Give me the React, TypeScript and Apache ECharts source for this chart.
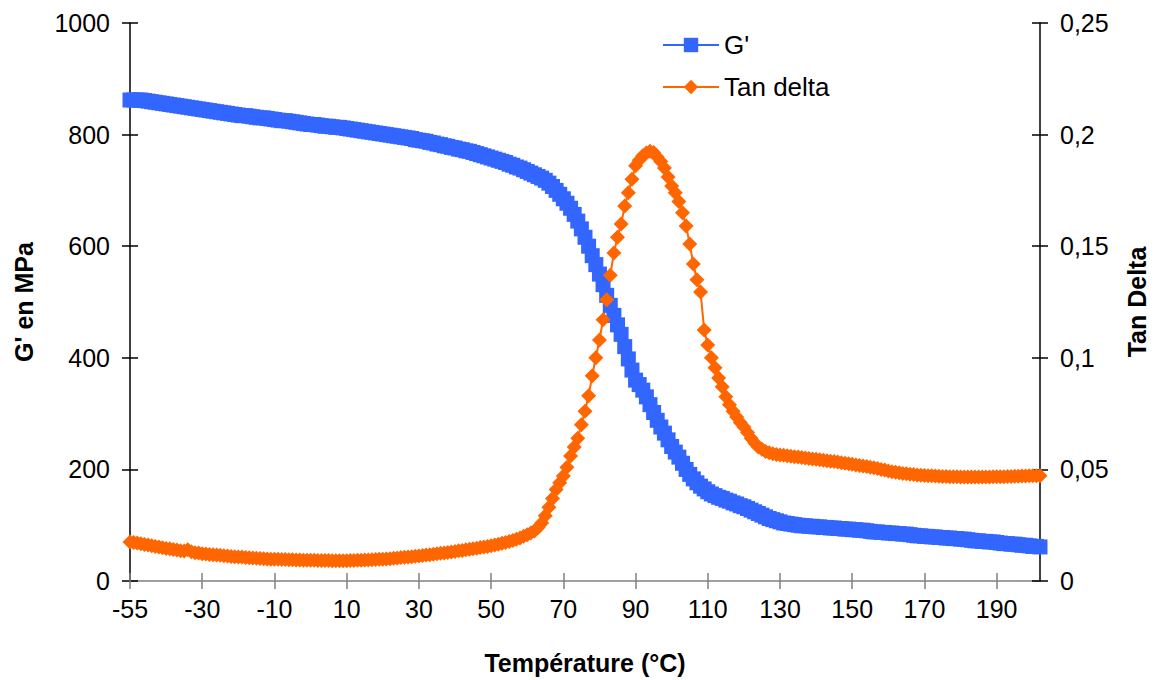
import React, { useEffect, useRef } from "react";
import * as echarts from "echarts";

// Temperature categories (°C) – one per measured point
const temperatures: number[] = [
  -55, -53.75, -52.5, -51.25, -50, -48.75, -47.5, -46.25, -45, -43.75,
  -42.5, -41.25, -40, -38.75, -37.5, -36.25, -35, -33.75, -32.5, -31.25,
  -30, -29, -28, -27, -26, -25, -24, -23, -22, -21,
  -20, -19, -18, -17, -16, -15, -14, -13, -12, -11,
  -10, -9, -8, -7, -6, -5, -4, -3, -2, -1,
  0, 1, 2, 3, 4, 5, 6, 7, 8, 9,
  10, 11, 12, 13, 14, 15, 16, 17, 18, 19,
  20, 21, 22, 23, 24, 25, 26, 27, 28, 29,
  30, 31, 32, 33, 34, 35, 36, 37, 38, 39,
  40, 41, 42, 43, 44, 45, 46, 47, 48, 49,
  50, 51, 52, 53, 54, 55, 56, 57, 58, 59,
  60, 61, 62, 63, 64, 65, 66, 67, 68, 69,
  70, 71, 72, 73, 74, 75, 76, 77, 78, 79,
  80, 81, 82, 83, 84, 85, 86, 87, 88, 89,
  90, 91, 92, 93, 94, 95, 96, 97, 98, 99,
  100, 101, 102, 103, 104, 105, 106, 107, 108, 109,
  110, 111, 112, 113, 114, 115, 116, 117, 118, 119,
  120, 121, 122, 123, 124, 125, 126, 127, 128, 129,
  130, 131, 132, 133, 134, 135, 136, 137, 138, 139,
  140, 141, 142, 143, 144, 145, 146, 147, 148, 149,
  150, 151, 152, 153, 154, 155, 156, 157, 158, 159,
  160, 161, 162, 163, 164, 165, 166, 167, 168, 169,
  170, 171, 172, 173, 174, 175, 176, 177, 178, 179,
  180, 181, 182, 183, 184, 185, 186, 187, 188, 189,
  190, 191, 192, 193, 194, 195, 196, 197, 198, 199,
  200, 201, 202,
];

// G' (MPa)
const gPrime: number[] = [
  862, 862, 862, 862, 861, 860, 859, 858, 857, 856,
  855, 854, 853, 852, 851, 850, 849, 848, 847, 846,
  845, 844, 843, 842, 841, 840, 839, 838, 837, 836,
  835, 834, 834, 833, 832, 831, 830, 830, 829, 828,
  827, 826, 825, 825, 824, 823, 822, 821, 820, 819,
  818, 818, 817, 816, 815, 815, 814, 813, 813, 812,
  811, 810, 809, 808, 807, 806, 805, 804, 803, 802,
  801, 800, 799, 798, 797, 796, 795, 794, 793, 791,
  790, 789, 788, 786, 785, 783, 782, 780, 779, 777,
  776, 774, 773, 771, 770, 768, 766, 764, 762, 760,
  758, 756, 754, 752, 750, 747, 745, 742, 740, 737,
  734, 731, 728, 725, 722, 718, 713, 707, 700, 693,
  685, 677, 668, 657, 645, 631, 616, 600, 583, 567,
  550, 531, 512, 494, 476, 459, 442, 420, 398, 378,
  360, 352, 342, 330, 316, 302, 288, 276, 265, 253,
  241, 231, 222, 211, 200, 191, 183, 176, 170, 165,
  160, 156, 153, 150, 148, 145, 143, 140, 138, 135,
  133, 130, 127, 124, 121, 118, 115, 112, 110, 108,
  106, 104, 103, 102, 101, 100, 99, 99, 98, 98,
  97, 97, 96, 96, 95, 95, 94, 94, 93, 93,
  92, 92, 91, 91, 90, 89, 88, 88, 87, 87,
  86, 86, 85, 85, 84, 84, 83, 82, 81, 81,
  80, 80, 79, 79, 78, 78, 77, 77, 76, 76,
  75, 75, 74, 73, 72, 72, 71, 71, 70, 70,
  69, 68, 67, 67, 66, 66, 65, 64, 64, 63,
  62, 62, 61,
];

// Tan delta
const tanDelta: number[] = [
  0.0175, 0.0172, 0.0170, 0.0167, 0.0164, 0.0161, 0.0158, 0.0155, 0.0152, 0.0149,
  0.0146, 0.0144, 0.0141, 0.0139, 0.0136, 0.0134, 0.0140, 0.0131, 0.0127, 0.0125,
  0.0122, 0.0121, 0.0119, 0.0118, 0.0116, 0.0115, 0.0113, 0.0112, 0.0110, 0.0109,
  0.0108, 0.0107, 0.0105, 0.0104, 0.0103, 0.0102, 0.0101, 0.0100, 0.0099, 0.0098,
  0.0097, 0.0097, 0.0096, 0.0096, 0.0095, 0.0095, 0.0094, 0.0094, 0.0093, 0.0093,
  0.0093, 0.0093, 0.0092, 0.0092, 0.0092, 0.0092, 0.0091, 0.0091, 0.0091, 0.0091,
  0.0091, 0.0092, 0.0092, 0.0093, 0.0093, 0.0094, 0.0094, 0.0095, 0.0096, 0.0097,
  0.0098, 0.0099, 0.0100, 0.0102, 0.0103, 0.0105, 0.0106, 0.0108, 0.0109, 0.0111,
  0.0112, 0.0114, 0.0116, 0.0118, 0.0120, 0.0122, 0.0124, 0.0126, 0.0128, 0.0130,
  0.0132, 0.0135, 0.0137, 0.0140, 0.0142, 0.0145, 0.0147, 0.0150, 0.0152, 0.0155,
  0.0158, 0.0161, 0.0165, 0.0169, 0.0173, 0.0177, 0.0182, 0.0187, 0.0193, 0.0200,
  0.0207, 0.0215, 0.0224, 0.0240, 0.0260, 0.0292, 0.0330, 0.0370, 0.0410, 0.0440,
  0.0470, 0.0510, 0.0560, 0.0600, 0.0640, 0.0700, 0.0760, 0.0830, 0.0920, 0.1000,
  0.1080, 0.1170, 0.1260, 0.1370, 0.1470, 0.1540, 0.1600, 0.1680, 0.1740, 0.1800,
  0.1860, 0.1885, 0.1905, 0.1918, 0.1925, 0.1920, 0.1900, 0.1880, 0.1850, 0.1810,
  0.1770, 0.1740, 0.1700, 0.1650, 0.1590, 0.1510, 0.1420, 0.1350, 0.1295, 0.1125,
  0.1057, 0.1000, 0.0955, 0.0910, 0.0870, 0.0826, 0.0790, 0.0760, 0.0735, 0.0710,
  0.0690, 0.0665, 0.0640, 0.0618, 0.0600, 0.0590, 0.0580, 0.0575, 0.0570, 0.0567,
  0.0565, 0.0563, 0.0561, 0.0559, 0.0557, 0.0555, 0.0553, 0.0551, 0.0549, 0.0547,
  0.0545, 0.0543, 0.0541, 0.0539, 0.0537, 0.0535, 0.0533, 0.0530, 0.0528, 0.0525,
  0.0523, 0.0520, 0.0518, 0.0515, 0.0513, 0.0510, 0.0507, 0.0504, 0.0500, 0.0497,
  0.0493, 0.0490, 0.0487, 0.0485, 0.0482, 0.0480, 0.0478, 0.0477, 0.0475, 0.0474,
  0.0473, 0.0472, 0.0471, 0.0470, 0.0469, 0.0468, 0.0468, 0.0467, 0.0467, 0.0467,
  0.0466, 0.0466, 0.0466, 0.0466, 0.0466, 0.0466, 0.0466, 0.0466, 0.0466, 0.0467,
  0.0467, 0.0467, 0.0467, 0.0468, 0.0468, 0.0469, 0.0469, 0.0470, 0.0470, 0.0471,
  0.0471, 0.0472, 0.0472,
];

const FONT = "'Liberation Sans', Arial, Helvetica, sans-serif";
const BLUE = "#3366FF";
const ORANGE = "#FF6600";
const LABEL_EVERY = 20; // one x label every 20 points

export default function App() {
  const ref = useRef<HTMLDivElement>(null);

  useEffect(() => {
    if (!ref.current) return;
    const chart = echarts.init(ref.current, null, { renderer: "svg" });
    const categories = temperatures.map((t) => String(t));
    const commaFmt = (v: number) => String(Number(v.toFixed(2))).replace(".", ",");
    const plainFmt = (v: number) => String(v);

    const option: any = {
      animation: false,
      backgroundColor: "#ffffff",
      textStyle: { fontFamily: FONT, color: "#000" },
      grid: { left: 130, right: 116, top: 23, bottom: 99, containLabel: false },
      legend: {
        orient: "vertical",
        left: 662,
        top: 32,
        padding: 0,
        itemWidth: 56,
        itemHeight: 18,
        itemGap: 16,
        selectedMode: false,
        textStyle: { fontSize: 26, color: "#000", fontFamily: FONT },
        data: ["G'", "Tan delta"],
      },
      xAxis: [
        {
          type: "category",
          data: categories,
          boundaryGap: false,
          position: "bottom",
          name: "Température (°C)",
          nameLocation: "middle",
          nameGap: 69,
          nameMoveOverlap: false,
          nameTextStyle: { fontSize: 25, fontWeight: "bold", color: "#000", fontFamily: FONT },
          axisLine: { show: true, onZero: false, lineStyle: { color: "#808080", width: 1.5 } },
          axisTick: { show: true, interval: LABEL_EVERY - 1, length: 8, lineStyle: { color: "#808080", width: 1.5 } },
          axisLabel: {
            interval: LABEL_EVERY - 1,
            fontSize: 25,
            color: "#000",
            fontFamily: FONT,
            margin: 15,
            hideOverlap: false,
          },
          splitLine: { show: false },
        },
        {
          type: "category",
          data: categories,
          boundaryGap: false,
          position: "bottom",
          axisLine: { show: false },
          axisTick: { show: true, inside: true, interval: LABEL_EVERY - 1, length: 8, lineStyle: { color: "#808080", width: 1.5 } },
          axisLabel: { show: false },
          splitLine: { show: false },
        },
      ],
      yAxis: [
        {
          type: "value",
          min: 0,
          max: 1000,
          interval: 200,
          position: "left",
          name: "G' en MPa",
          nameLocation: "middle",
          nameGap: 94,
          nameMoveOverlap: false,
          nameTextStyle: { fontSize: 25, fontWeight: "bold", color: "#000", fontFamily: FONT },
          axisLine: { show: true, lineStyle: { color: "#000", width: 1.5 } },
          axisTick: { show: true, length: 8, lineStyle: { color: "#000", width: 1.5 } },
          axisLabel: { fontSize: 25, color: "#000", fontFamily: FONT, margin: 20, formatter: plainFmt },
          splitLine: { show: false },
        },
        {
          type: "value",
          min: 0,
          max: 0.25,
          interval: 0.05,
          position: "right",
          name: "Tan Delta",
          nameLocation: "middle",
          nameGap: 84,
          nameRotate: 90,
          nameMoveOverlap: false,
          nameTextStyle: { fontSize: 25, fontWeight: "bold", color: "#000", fontFamily: FONT },
          axisLine: { show: true, lineStyle: { color: "#000", width: 1.5 } },
          axisTick: { show: true, length: 8, lineStyle: { color: "#000", width: 1.5 } },
          axisLabel: { fontSize: 25, color: "#000", fontFamily: FONT, margin: 20, formatter: commaFmt },
          splitLine: { show: false },
        },
        {
          type: "value",
          min: 0,
          max: 1000,
          interval: 200,
          position: "left",
          axisLine: { show: false },
          axisTick: { show: true, inside: true, length: 8, lineStyle: { color: "#000", width: 1.5 } },
          axisLabel: { show: false },
          splitLine: { show: false },
        },
        {
          type: "value",
          min: 0,
          max: 0.25,
          interval: 0.05,
          position: "right",
          axisLine: { show: false },
          axisTick: { show: true, inside: true, length: 8, lineStyle: { color: "#000", width: 1.5 } },
          axisLabel: { show: false },
          splitLine: { show: false },
        },
      ],
      series: [
        {
          name: "G'",
          type: "line",
          xAxisIndex: 0,
          yAxisIndex: 0,
          data: gPrime,
          symbol: "rect",
          symbolSize: 15,
          showAllSymbol: true,
          silent: true,
          itemStyle: { color: BLUE },
          lineStyle: { color: BLUE, width: 2 },
          emphasis: { disabled: true },
        },
        {
          name: "Tan delta",
          type: "line",
          xAxisIndex: 0,
          yAxisIndex: 1,
          data: tanDelta,
          symbol: "diamond",
          symbolSize: 15,
          showAllSymbol: true,
          silent: true,
          itemStyle: { color: ORANGE },
          lineStyle: { color: ORANGE, width: 2 },
          emphasis: { disabled: true },
        },
      ],
    };

    chart.setOption(option);
    return () => chart.dispose();
  }, []);

  return (
    <div
      ref={ref}
      style={{ position: "absolute", left: 0, top: 0, width: 1157, height: 680, background: "#fff" }}
    />
  );
}
